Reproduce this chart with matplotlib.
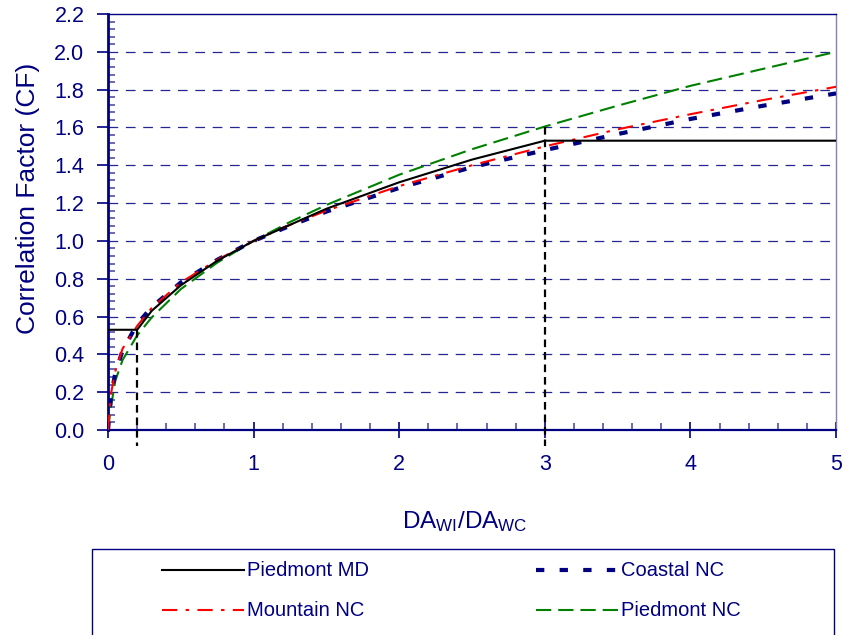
import matplotlib
matplotlib.use("Agg")
import matplotlib.pyplot as plt
from matplotlib.lines import Line2D
from matplotlib.patches import Rectangle
from matplotlib.ticker import MultipleLocator

plt.rcParams['font.family'] = ['Liberation Sans', 'DejaVu Sans']
plt.rcParams['mathtext.fontset'] = 'custom'
plt.rcParams['mathtext.rm'] = 'Liberation Sans'
plt.rcParams['mathtext.it'] = 'Liberation Sans'
plt.rcParams['lines.scale_dashes'] = False

NAVY = '#000080'

# ---- data ----
x_nc = [0.0, 0.02, 0.05, 0.1, 0.2, 0.3, 0.5, 0.75, 1.0, 1.25, 1.5, 2.0, 2.5, 3.0, 3.5, 4.0, 4.5, 5.0]
coastal_nc = [0.0, 0.18, 0.30, 0.42, 0.56, 0.65, 0.78, 0.90, 1.00, 1.08, 1.155, 1.28, 1.39, 1.48, 1.565, 1.645, 1.715, 1.78]
mountain_nc = [0.0, 0.19, 0.31, 0.43, 0.55, 0.645, 0.78, 0.90, 1.00, 1.085, 1.16, 1.29, 1.40, 1.50, 1.59, 1.67, 1.745, 1.815]
piedmont_nc = [0.0, 0.12, 0.26, 0.37, 0.50, 0.595, 0.745, 0.885, 1.00, 1.10, 1.19, 1.35, 1.485, 1.605, 1.715, 1.82, 1.91, 2.00]

x_md = [0.0, 0.2, 0.3, 0.5, 0.75, 1.0, 1.5, 2.0, 2.5, 3.0, 5.0]
piedmont_md = [0.53, 0.53, 0.63, 0.765, 0.895, 1.00, 1.17, 1.31, 1.43, 1.53, 1.53]

ref_x = [0.2, 3.0]
ref_top = [0.53, 1.60]
ref_bottom = -0.085

y_ticks = [0.0, 0.2, 0.4, 0.6, 0.8, 1.0, 1.2, 1.4, 1.6, 1.8, 2.0, 2.2]
x_ticks = [0, 1, 2, 3, 4, 5]

series_names = ['Piedmont MD', 'Coastal NC', 'Mountain NC', 'Piedmont NC']

# ---- styles ----
sty_md = dict(color='black', lw=1.5, ls='-')
sty_coastal = dict(color=NAVY, lw=3.0, ls=(0, (6, 11)))
sty_mountain = dict(color='#ff0000', lw=1.5, ls=(0, (11, 6, 2.5, 6)))
sty_pied = dict(color='#008000', lw=1.5, ls=(0, (11, 5)))

W, H = 844, 635
fig = plt.figure(figsize=(W / 100, H / 100), dpi=100)
ax = fig.add_axes([108 / W, 1 - 430 / H, (836 - 108) / W, (430 - 14) / H])

ax.set_xlim(0, 5)
ax.set_ylim(0, 2.2)

for yv in y_ticks[1:-1]:
    ax.axhline(yv, color=NAVY, lw=0.9, ls=(0, (7, 5.5)), zorder=1, alpha=0.85)

ax.plot(x_nc, piedmont_nc, zorder=3, **sty_pied)
ax.plot(x_nc, mountain_nc, zorder=4, **sty_mountain)
ax.plot(x_nc, coastal_nc, zorder=3, **sty_coastal)
ax.plot(x_md, piedmont_md, zorder=5, **sty_md)

for xr, yt in zip(ref_x, ref_top):
    ax.plot([xr, xr], [yt, ref_bottom], color='black', lw=1.6,
            ls=(0, (5.5, 3.5)), clip_on=False, zorder=6)

ax.set_xticks(x_ticks)
ax.set_yticks(y_ticks)
ax.set_yticklabels([f'{v:.1f}' for v in y_ticks])
ax.xaxis.set_minor_locator(MultipleLocator(0.2))
ax.yaxis.set_minor_locator(MultipleLocator(0.04))

ax.tick_params(axis='x', which='major', direction='inout', length=12, width=1.2,
               color=NAVY, labelcolor=NAVY, labelsize=15.5, pad=11)
ax.tick_params(axis='x', which='minor', direction='in', length=5, width=1.2, color='#5050a8')
ax.tick_params(axis='y', which='major', direction='out', length=8, width=1.2,
               color=NAVY, labelcolor=NAVY, labelsize=15.5, pad=9)
ax.tick_params(axis='y', which='minor', direction='in', length=5, width=1.2, color='#5050a8')

ax.spines['left'].set_color(NAVY)
ax.spines['left'].set_linewidth(2.0)
ax.spines['bottom'].set_color(NAVY)
ax.spines['bottom'].set_linewidth(1.6)
ax.spines['top'].set_color(NAVY)
ax.spines['top'].set_linewidth(1.0)
ax.spines['right'].set_color('#8080c0')
ax.spines['right'].set_linewidth(1.0)

fig.text(28 / W, 1 - 198 / H, 'Correlation Factor (CF)', rotation=90,
         ha='center', va='center', fontsize=19, color=NAVY)
fig.text(465 / W, 1 - 522 / H, r'DA$_{\mathrm{WI}}$/DA$_{\mathrm{WC}}$',
         ha='center', va='center', fontsize=17.5, color=NAVY)

# ---- legend box ----
fig.add_artist(Rectangle((92 / W, -0.05), (834 - 92) / W, 0.05 + 1 - 549 / H,
                         transform=fig.transFigure, fill=False, edgecolor=NAVY, lw=1.0))
entries = [
    (series_names[0], sty_md, 162, 570),
    (series_names[1], sty_coastal, 536, 570),
    (series_names[2], sty_mountain, 162, 610),
    (series_names[3], sty_pied, 536, 610),
]
for name, sty, x0, yc in entries:
    yy = 1 - yc / H
    fig.add_artist(Line2D([x0 / W, (x0 + 82) / W], [yy, yy], transform=fig.transFigure, **sty))
    fig.text((x0 + 85) / W, yy, name, ha='left', va='center', fontsize=14.5, color=NAVY)

fig.savefig('out.png', dpi=100)
